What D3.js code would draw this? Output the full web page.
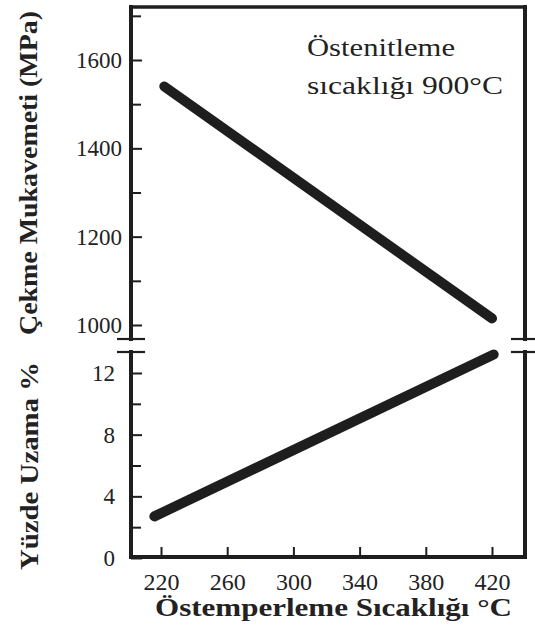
<!DOCTYPE html>
<html>
<head>
<meta charset="utf-8">
<script src="https://cdn.jsdelivr.net/npm/d3@7"></script>
</head>
<body style="margin:0;background:#fff">
<svg id="chart" width="535" height="630" style="display:block;background:#fff"></svg>
<script>
// Austempering temperature (°C) on the shared x axis
const tempTicks = [220, 260, 300, 340, 380, 420];

// Upper panel: tensile strength (MPa)
const strengthTicks = [1000, 1200, 1400, 1600];
const strengthMinor = [1100, 1300, 1500, 1700];
const strengthTemp = [222, 420];
const strengthVal = [1540, 1015];

// Lower panel: elongation (%)
const elongTicks = [0, 4, 8, 12];
const elongMinor = [2, 6, 10];
const elongTemp = [216, 421];
const elongVal = [2.7, 13.2];

const svg = d3.select("#chart");
const ink = "#1e1e1e";
const serif = "\"Liberation Serif\"";

// layout
const frameL = 131, frameR = 525, frameT = 7, frameB = 557;
const breakTop = 339, breakBot = 352;

const x = d3.scaleLinear().domain([220, 420]).range([161, 492]);
const yTop = d3.scaleLinear().domain([1000, 1600]).range([325, 60]);
const yBot = d3.scaleLinear().domain([0, 12]).range([558, 373]);

// frame with broken vertical sides
const frame = svg.append("g").attr("stroke", ink).attr("fill", "none").attr("stroke-linecap", "square");
frame.append("line").attr("x1", frameL).attr("x2", frameR).attr("y1", frameT).attr("y2", frameT).attr("stroke-width", 3.5);
frame.append("line").attr("x1", frameL).attr("x2", frameR).attr("y1", frameB).attr("y2", frameB).attr("stroke-width", 4);
[frameL, frameR].forEach(xx => {
  frame.append("line").attr("x1", xx).attr("x2", xx).attr("y1", frameT).attr("y2", breakTop).attr("stroke-width", 4);
  frame.append("line").attr("x1", xx).attr("x2", xx).attr("y1", breakBot).attr("y2", frameB).attr("stroke-width", 4);
  [breakTop, breakBot].forEach(yy => {
    frame.append("line").attr("x1", xx - 14).attr("x2", xx + 14).attr("y1", yy).attr("y2", yy)
      .attr("stroke-width", 2.2).attr("stroke-linecap", "butt");
  });
});

function styleAxis(g, fontSize) {
  g.select(".domain").remove();
  g.selectAll(".tick line").attr("stroke", ink).attr("stroke-width", 2);
  g.selectAll(".tick text")
    .style("font-family", serif).style("font-size", fontSize + "px").style("fill", "#222");
}

// upper y axis
svg.append("g").attr("transform", `translate(${frameL},0)`)
  .call(d3.axisLeft(yTop).tickValues(strengthTicks).tickSizeInner(-11).tickSizeOuter(0).tickPadding(9).tickFormat(d3.format("d")))
  .call(g => styleAxis(g, 23));
svg.append("g").attr("transform", `translate(${frameL},0)`)
  .call(d3.axisLeft(yTop).tickValues(strengthMinor).tickSizeInner(-10).tickSizeOuter(0).tickFormat(""))
  .call(g => styleAxis(g, 0));

// lower y axis
svg.append("g").attr("transform", `translate(${frameL},0)`)
  .call(d3.axisLeft(yBot).tickValues(elongTicks).tickSizeInner(-11).tickSizeOuter(0).tickPadding(16).tickFormat(d3.format("d")))
  .call(g => styleAxis(g, 23));
svg.append("g").attr("transform", `translate(${frameL},0)`)
  .call(d3.axisLeft(yBot).tickValues(elongMinor).tickSizeInner(-10).tickSizeOuter(0).tickFormat(""))
  .call(g => styleAxis(g, 0));

// x axis
svg.append("g").attr("transform", `translate(0,${frameB})`)
  .call(d3.axisBottom(x).tickValues(tempTicks).tickSizeInner(-10).tickSizeOuter(0).tickPadding(16).tickFormat(d3.format("d")))
  .call(g => styleAxis(g, 24));

// trend lines
const lineTop = d3.line().x(d => x(d[0])).y(d => yTop(d[1]));
const lineBot = d3.line().x(d => x(d[0])).y(d => yBot(d[1]));
svg.append("path").datum(d3.zip(strengthTemp, strengthVal)).attr("d", lineTop)
  .attr("stroke", ink).attr("stroke-width", 10).attr("fill", "none").attr("stroke-linecap", "round");
svg.append("path").datum(d3.zip(elongTemp, elongVal)).attr("d", lineBot)
  .attr("stroke", ink).attr("stroke-width", 10).attr("fill", "none").attr("stroke-linecap", "round");

function label(sel, size, bold) {
  return sel.style("font-family", serif).style("font-size", size + "px")
    .style("font-weight", bold ? "bold" : "normal").style("fill", "#222")
    .attr("lengthAdjust", "spacingAndGlyphs");
}

// annotation
label(svg.append("text"), 25, false).attr("x", 307).attr("y", 56)
  .attr("textLength", 148).text("Östenitleme");
label(svg.append("text"), 25, false).attr("x", 307).attr("y", 94)
  .attr("textLength", 196).text("sıcaklığı 900°C");

// axis titles
label(svg.append("text"), 26, true).attr("transform", "translate(37,173) rotate(-90)")
  .attr("text-anchor", "middle").attr("textLength", 324).text("Çekme Mukavemeti (MPa)");
label(svg.append("text"), 26, true).attr("transform", "translate(38,466) rotate(-90)")
  .attr("text-anchor", "middle").attr("textLength", 208).text("Yüzde Uzama %");
label(svg.append("text"), 26, true).attr("x", 155).attr("y", 616)
  .attr("textLength", 357).text("Östemperleme Sıcaklığı °C");
</script>
</body>
</html>
